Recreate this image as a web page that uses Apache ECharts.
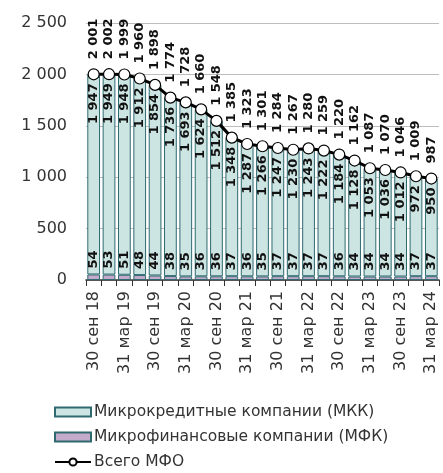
<!DOCTYPE html>
<html>
<head>
<meta charset="utf-8">
<script src="https://cdn.jsdelivr.net/npm/echarts@6/dist/echarts.min.js"></script>
<style>
  html, body { margin: 0; padding: 0; background: #fff; }
  #chart { width: 443px; height: 473px; }
</style>
</head>
<body>
<div id="chart"></div>
<script>
var categories = [
  "30 сен 18", "31 дек 18", "31 мар 19", "30 июн 19", "30 сен 19", "31 дек 19",
  "31 мар 20", "30 июн 20", "30 сен 20", "31 дек 20", "31 мар 21", "30 июн 21",
  "30 сен 21", "31 дек 21", "31 мар 22", "30 июн 22", "30 сен 22", "31 дек 22",
  "31 мар 23", "30 июн 23", "30 сен 23", "31 дек 23", "31 мар 24"
];
var mkk = [1947, 1949, 1948, 1912, 1854, 1736, 1693, 1624, 1512, 1348, 1287, 1266,
           1247, 1230, 1243, 1222, 1184, 1128, 1053, 1036, 1012, 972, 950];
var mfk = [54, 53, 51, 48, 44, 38, 35, 36, 36, 37, 36, 35,
           37, 37, 37, 37, 36, 34, 34, 34, 34, 37, 37];
var total = [2001, 2002, 1999, 1960, 1898, 1774, 1728, 1660, 1548, 1385, 1323, 1301,
             1284, 1267, 1280, 1259, 1220, 1162, 1087, 1070, 1046, 1009, 987];

var FONT = "DejaVu Sans";

function fmt(v) {
  return String(v).replace(/\B(?=(\d{3})+(?!\d))/g, " ");
}

function valLabel(pos, align, dist) {
  return {
    show: true,
    position: pos,
    rotate: 90,
    align: align,
    verticalAlign: "middle",
    distance: dist,
    fontSize: 13,
    fontWeight: "bold",
    fontFamily: FONT,
    color: "#111",
    formatter: function (p) { return fmt(p.value); }
  };
}

var chart = echarts.init(document.getElementById("chart"));

var option = {
  animation: false,
  textStyle: { fontFamily: FONT },
  grid: { left: 86, right: 4, top: 23, bottom: 193 },
  legend: {
    orient: "vertical",
    left: 54,
    top: 404,
    padding: 0,
    itemGap: 9,
    itemWidth: 36,
    itemHeight: 9,
    textStyle: { fontSize: 15.5, lineHeight: 16, color: "#333", fontFamily: FONT, padding: [0, 0, 0, -2] },
    data: [
      { name: "Микрокредитные компании (МКК)", icon: "rect" },
      { name: "Микрофинансовые компании (МФК)", icon: "rect" },
      { name: "Всего МФО" }
    ]
  },
  xAxis: {
    type: "category",
    data: categories,
    boundaryGap: true,
    axisLine: { lineStyle: { color: "#333", width: 1.5 } },
    axisTick: { show: true, interval: 0, length: 6, lineStyle: { color: "#333" } },
    axisLabel: {
      interval: 1,
      rotate: 90,
      fontSize: 16,
      color: "#333",
      margin: 11
    }
  },
  yAxis: {
    type: "value",
    min: 0,
    max: 2500,
    interval: 500,
    axisLine: { show: false },
    axisTick: { show: false },
    splitLine: { lineStyle: { color: "#bdbdbd", width: 1 } },
    axisLabel: {
      fontSize: 16,
      color: "#333",
      margin: 19,
      formatter: function (v) { return fmt(v); }
    }
  },
  series: [
    {
      name: "Микрофинансовые компании (МФК)",
      type: "bar",
      stack: "all",
      data: mfk,
      barCategoryGap: "17%",
      itemStyle: { color: "#c4aacb", borderColor: "#2e6a70", borderWidth: 1 },
      label: valLabel("top", "left", 6),
      labelLayout: { hideOverlap: false }
    },
    {
      name: "Микрокредитные компании (МКК)",
      type: "bar",
      stack: "all",
      data: mkk,
      barCategoryGap: "17%",
      itemStyle: { color: "#cde5e2", borderColor: "#2e6a70", borderWidth: 1 },
      label: valLabel("insideTop", "right", 9),
      labelLayout: { hideOverlap: false }
    },
    {
      // invisible bar carrying the total labels above the line points
      name: "totals",
      type: "bar",
      data: total,
      barGap: "-100%",
      barCategoryGap: "17%",
      silent: true,
      z: 1,
      itemStyle: { color: "rgba(0,0,0,0)" },
      label: valLabel("top", "left", 15),
      labelLayout: { hideOverlap: false }
    },
    {
      name: "Всего МФО",
      type: "line",
      data: total,
      z: 5,
      symbol: "circle",
      symbolSize: 11,
      showAllSymbol: true,
      lineStyle: { color: "#000", width: 3 },
      itemStyle: { color: "#fff", borderColor: "#000", borderWidth: 1.2 }
    }
  ]
};

chart.setOption(option);
</script>
</body>
</html>
